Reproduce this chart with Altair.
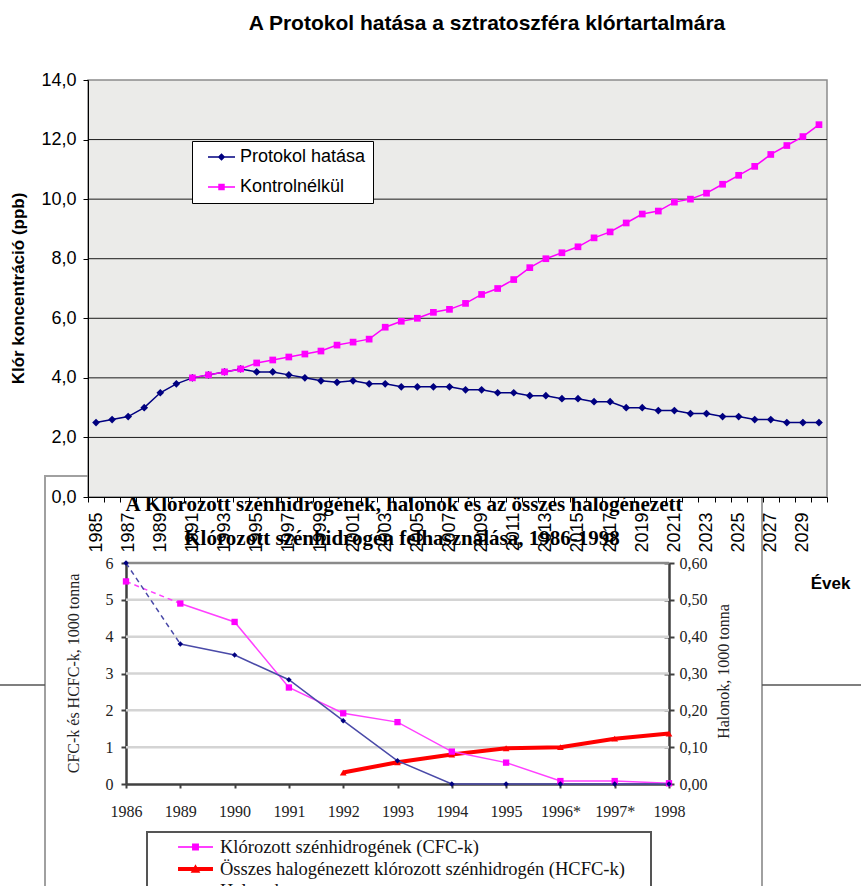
import altair as alt
import pandas as pd

# ---------------- upper chart data ----------------
years = list(range(1985, 2031))
protokol = [2.5, 2.6, 2.7, 3.0, 3.5, 3.8, 4.0, 4.1, 4.2, 4.3,
            4.2, 4.2, 4.1, 4.0, 3.9, 3.85, 3.9, 3.8, 3.8, 3.7,
            3.7, 3.7, 3.7, 3.6, 3.6, 3.5, 3.5, 3.4, 3.4, 3.3,
            3.3, 3.2, 3.2, 3.0, 3.0, 2.9, 2.9, 2.8, 2.8, 2.7,
            2.7, 2.6, 2.6, 2.5, 2.5, 2.5]
kontroll = [None, None, None, None, None, None,
            4.0, 4.1, 4.2, 4.3, 4.5, 4.6, 4.7, 4.8, 4.9, 5.1,
            5.2, 5.3, 5.7, 5.9, 6.0, 6.2, 6.3, 6.5, 6.8, 7.0,
            7.3, 7.7, 8.0, 8.2, 8.4, 8.7, 8.9, 9.2, 9.5, 9.6,
            9.9, 10.0, 10.2, 10.5, 10.8, 11.1, 11.5, 11.8, 12.1, 12.5]
top_series = ["Protokol hatása", "Kontrolnélkül"]
top_y_ticks = [0, 2, 4, 6, 8, 10, 12, 14]
top_grid = [2, 4, 6, 8, 10, 12]
top_title = "A Protokol hatása a sztratoszféra klórtartalmára"
top_y_title = "Klór koncentráció (ppb)"
top_x_title = "Évek"

# ---------------- lower chart data ----------------
lower_cats = ["1986", "1989", "1990", "1991", "1992", "1993", "1994",
              "1995", "1996*", "1997*", "1998"]
cfc = [5.5, 4.9, 4.4, 2.62, 1.92, 1.68, 0.88, 0.58, 0.08, 0.08, 0.02]
hcfc = [None, None, None, None, 0.31, 0.59, 0.8, 0.97, 1.0, 1.23, 1.37]
halon = [0.60, 0.38, 0.35, 0.283, 0.172, 0.063, 0.0, 0.0, 0.0, 0.0, 0.0]
lower_series = ["Klórozott szénhidrogének (CFC-k)",
                "Összes halogénezett klórozott szénhidrogén (HCFC-k)",
                "Halonok"]
left_ticks = [0, 1, 2, 3, 4, 5, 6]
left_grid = [1, 2, 3, 4, 5]
right_ticks = [0.0, 0.1, 0.2, 0.3, 0.4, 0.5, 0.6]
low_title1 = "A Klórozott szénhidrogének, halonok és az összes halogénezett"
low_title2 = "Klórozott szénhidrogén felhasználása, 1986-1998"
left_title = "CFC-k és HCFC-k, 1000 tonna"
right_title = "Halonok, 1000 tonna"

# ---------------- layout / style ----------------
W, H = 861, 886
TOP_X = [88, 827]
TOP_Y = [497, 80]
LOW_X = [126, 669]
LOW_Y = [784, 563]
SANS = "Liberation Sans"
SERIF = "Liberation Serif"
NAVY = "#000080"
MAG = "#FF00FF"
RED = "#FF0000"

# ---------------- helpers ----------------
def top_xb(axis=None):
    return alt.X("ev:O", scale=alt.Scale(type="band", domain=years, range=TOP_X,
                                          paddingInner=0, paddingOuter=0),
                 bandPosition=0.5, axis=axis)

def top_xq(field):
    return alt.X(field, scale=alt.Scale(domain=[years[0] - 0.5, years[-1] + 0.5],
                                        range=TOP_X, nice=False, zero=False), axis=None)

def top_y(field, axis=None):
    return alt.Y(field, scale=alt.Scale(domain=[top_y_ticks[0], top_y_ticks[-1]],
                                        range=TOP_Y, nice=False, zero=False), axis=axis)

def low_x(axis=None):
    return alt.X("kat:O", scale=alt.Scale(type="point", domain=lower_cats, range=LOW_X,
                                          padding=0), sort=lower_cats, axis=axis)

def low_xq(field):
    return alt.X(field, scale=alt.Scale(domain=[0, len(lower_cats) - 1], range=LOW_X,
                                        nice=False, zero=False), axis=None)

def low_yl(field, axis=None):
    return alt.Y(field, scale=alt.Scale(domain=[left_ticks[0], left_ticks[-1]],
                                        range=LOW_Y, nice=False, zero=False), axis=axis)

def low_yr(field, axis=None):
    return alt.Y(field, scale=alt.Scale(domain=[right_ticks[0], right_ticks[-1]],
                                        range=LOW_Y, nice=False, zero=False), axis=axis)

def text_layer(txt, x, y, font, size, weight="normal", angle=0):
    return alt.Chart(pd.DataFrame({"t": [txt]})).mark_text(
        font=font, fontSize=size, fontWeight=weight, align="center",
        baseline="middle", angle=angle, color="black").encode(
        text="t:N", x=alt.value(x), y=alt.value(y))

top_df = pd.DataFrame({"ev": years, "p": protokol, "k": kontroll})
low_df = pd.DataFrame({"kat": lower_cats, "cfc": cfc, "hcfc": hcfc, "halon": halon})

layers = []

# ================= lower (pasted) chart =================
layers.append(alt.Chart(pd.DataFrame({"a": [0]})).mark_rect(
    fillOpacity=0, stroke="#A0A0A0", strokeWidth=2).encode(
    x=alt.value(45), x2=alt.value(762), y=alt.value(476), y2=alt.value(920)))
layers.append(alt.Chart(pd.DataFrame({"a": [0]})).mark_rule(
    color="#555555", strokeWidth=1.5).encode(
    x=alt.value(0), x2=alt.value(45), y=alt.value(685)))
layers.append(alt.Chart(pd.DataFrame({"a": [0]})).mark_rule(
    color="#555555", strokeWidth=1.5).encode(
    x=alt.value(762), x2=alt.value(861), y=alt.value(685)))

layers.append(text_layer(low_title1, 404, 505, SERIF, 21, "bold"))
layers.append(text_layer(low_title2, 402, 539, SERIF, 21, "bold"))

# gridlines + left axis
lgrid = pd.DataFrame({"y": left_grid, "x0": 0, "x1": len(lower_cats) - 1})
left_axis = alt.Axis(orient="left", offset=-LOW_X[0], values=left_ticks, grid=False,
                     tickSize=5, tickWidth=2, tickColor="#404040",
                     domainColor="#404040", domainWidth=2.5,
                     labelFont=SERIF, labelFontSize=16, labelColor="#222222",
                     labelPadding=8, title=left_title, titleFont=SERIF,
                     titleFontSize=16, titleFontWeight="normal", titleColor="#222222",
                     titleX=73 - LOW_X[0], titleY=673, titleAngle=270,
                     titleAlign="center", titleBaseline="middle")
layers.append(alt.Chart(lgrid).mark_rule(color="#D4D4D4", strokeWidth=2.5).encode(
    x=low_xq("x0:Q"), x2="x1:Q", y=low_yl("y:Q", left_axis)))
ltop = pd.DataFrame({"y": [left_ticks[-1]], "x0": 0, "x1": len(lower_cats) - 1})
layers.append(alt.Chart(ltop).mark_rule(color="#8A8A8A", strokeWidth=2.5).encode(
    x=low_xq("x0:Q"), x2="x1:Q", y=low_yl("y:Q")))

# lines
layers.append(alt.Chart(low_df.dropna(subset=["hcfc"])).mark_line(
    color=RED, strokeWidth=4).encode(x=low_x(), y=low_yl("hcfc:Q")))
layers.append(alt.Chart(low_df.iloc[:2]).mark_line(
    color="#FF40FF", strokeWidth=1.5, strokeDash=[5, 4]).encode(x=low_x(), y=low_yl("cfc:Q")))
bottom_axis = alt.Axis(orient="bottom", offset=LOW_Y[0] - H, grid=False, tickSize=4,
                       tickWidth=2, tickColor="#404040", domainColor="#404040",
                       domainWidth=2.5, labelFont=SERIF, labelFontSize=16,
                       labelColor="#222222", labelPadding=15, labelAngle=0,
                       labelOverlap=False, title=None)
layers.append(alt.Chart(low_df.iloc[1:]).mark_line(
    color="#FF40FF", strokeWidth=1.5).encode(x=low_x(bottom_axis), y=low_yl("cfc:Q")))
layers.append(alt.Chart(low_df.iloc[:2]).mark_line(
    color="#4A4AA8", strokeWidth=1.5, strokeDash=[5, 4]).encode(x=low_x(), y=low_yr("halon:Q")))
right_axis = alt.Axis(orient="right", offset=LOW_X[1] - W, values=right_ticks, grid=False,
                      tickSize=5, tickWidth=2, tickColor="#404040",
                      domainColor="#404040", domainWidth=2.5,
                      labelFont=SERIF, labelFontSize=16, labelColor="#222222",
                      labelPadding=5,
                      labelExpr="replace(format(datum.value, '.2f'), '.', ',')",
                      title=right_title, titleFont=SERIF, titleFontSize=16,
                      titleFontWeight="normal", titleColor="#222222",
                      titleX=723 - LOW_X[1], titleY=671, titleAngle=270,
                      titleAlign="center", titleBaseline="middle")
layers.append(alt.Chart(low_df.iloc[1:]).mark_line(
    color="#4A4AA8", strokeWidth=1.5).encode(x=low_x(), y=low_yr("halon:Q", right_axis)))

# markers
layers.append(alt.Chart(low_df.dropna(subset=["hcfc"])).mark_point(
    filled=True, shape="triangle-up", size=45, color=RED, opacity=1).encode(
    x=low_x(), y=low_yl("hcfc:Q")))
layers.append(alt.Chart(low_df).mark_point(
    filled=True, shape="square", size=40, color=MAG, opacity=1).encode(
    x=low_x(), y=low_yl("cfc:Q")))
inner_ticks = alt.Axis(orient="left", offset=-LOW_X[1], values=right_ticks, grid=False,
                       tickSize=5, tickWidth=2, tickColor="#404040", domain=False,
                       labels=False, title=None)
layers.append(alt.Chart(low_df).mark_point(
    filled=True, shape="diamond", size=30, color=NAVY, opacity=1).encode(
    x=low_x(), y=low_yr("halon:Q", inner_ticks)))

# lower legend
layers.append(alt.Chart(pd.DataFrame({"a": [0]})).mark_rect(
    fill="white", stroke="#555555", strokeWidth=2).encode(
    x=alt.value(147), x2=alt.value(651), y=alt.value(832), y2=alt.value(930)))
low_paths = [
    "M-1.52,-0.065H1.52V0.065H-1.52Z M-0.3,-0.3H0.3V0.3H-0.3Z",
    "M-1.52,-0.175H1.52V0.175H-1.52Z M0,-0.42L0.42,0.32H-0.42Z",
    "M-1.52,-0.065H1.52V0.065H-1.52Z M0,-0.32L0.32,0L0,0.32L-0.32,0Z",
]
low_colors = [MAG, RED, "#2A2A95"]
low_legend = alt.Legend(title=None, orient="none", legendX=184, legendY=835.5, padding=0,
                        symbolSize=529, symbolOpacity=1, symbolStrokeWidth=0,
                        labelOffset=13, labelFont=SERIF, labelFontSize=18.5,
                        labelColor="#111111", labelLimit=700, rowPadding=1)
leg_low_df = pd.DataFrame({"s": lower_series, "kat": lower_cats[0], "v": 0.0})
layers.append(alt.Chart(leg_low_df).mark_point(filled=True, opacity=0).encode(
    x=low_x(), y=low_yl("v:Q"),
    color=alt.Color("s:N", scale=alt.Scale(domain=lower_series, range=low_colors),
                    legend=low_legend),
    shape=alt.Shape("s:N", scale=alt.Scale(domain=lower_series, range=low_paths),
                    legend=low_legend)))

# ================= upper chart =================
bg_df = pd.DataFrame({"x0": [years[0] - 0.5], "x1": [years[-1] + 0.5],
                      "y0": [top_y_ticks[0]], "y1": [top_y_ticks[-1]]})
layers.append(alt.Chart(bg_df).mark_rect(fill="#EBEBE9", stroke="#8C8C8C", strokeWidth=1.5).encode(
    x=top_xq("x0:Q"), x2="x1:Q", y=top_y("y0:Q"), y2="y1:Q"))

grid_df = pd.DataFrame({"y": top_grid, "x0": years[0] - 0.5, "x1": years[-1] + 0.5})
top_left_axis = alt.Axis(orient="left", offset=-TOP_X[0], values=top_y_ticks, grid=False,
                         zindex=1,
                         tickSize=5, tickColor="black", domainColor="black", domainWidth=1,
                         labelFont=SANS, labelFontSize=18, labelColor="black", labelPadding=7,
                         labelExpr="replace(format(datum.value, '.1f'), '.', ',')",
                         title=top_y_title, titleFont=SANS, titleFontSize=17,
                         titleFontWeight="bold", titleColor="black",
                         titleX=18 - TOP_X[0], titleY=288, titleAngle=270,
                         titleAlign="center", titleBaseline="middle")
layers.append(alt.Chart(grid_df).mark_rule(color="#1A1A1A", strokeWidth=1).encode(
    x=top_xq("x0:Q"), x2="x1:Q", y=top_y("y:Q", top_left_axis)))

top_bottom_axis = alt.Axis(orient="bottom", offset=TOP_Y[0] - H, grid=False, tickBand="extent",
                           zindex=1,
                           tickSize=5, tickColor="black", domainColor="black", domainWidth=1,
                           labelFont=SANS, labelFontSize=18, labelColor="black",
                           labelAngle=-90, labelAlign="right", labelBaseline="middle",
                           labelPadding=10, labelOverlap=False,
                           labelExpr="datum.value % 2 == 1 ? datum.label : ''",
                           title=top_x_title, titleFont=SANS, titleFontSize=17,
                           titleFontWeight="bold", titleColor="black",
                           titleX=830, titleY=583 - TOP_Y[0], titleAngle=0,
                           titleAlign="center", titleBaseline="middle")
layers.append(alt.Chart(top_df).mark_line(color=NAVY, strokeWidth=1.5).encode(
    x=top_xb(top_bottom_axis), y=top_y("p:Q")))
layers.append(alt.Chart(top_df.dropna(subset=["k"])).mark_line(color=MAG, strokeWidth=1.5).encode(
    x=top_xb(), y=top_y("k:Q")))
layers.append(alt.Chart(top_df).mark_point(filled=True, shape="diamond", size=60,
                                           color=NAVY, opacity=1).encode(
    x=top_xb(), y=top_y("p:Q")))
layers.append(alt.Chart(top_df.dropna(subset=["k"])).mark_point(filled=True, shape="square",
                                                                 size=45, color=MAG, opacity=1).encode(
    x=top_xb(), y=top_y("k:Q")))

top_paths = [
    "M-1.5,-0.083H1.5V0.083H-1.5Z M0,-0.42L0.42,0L0,0.42L-0.42,0Z",
    "M-1.5,-0.083H1.5V0.083H-1.5Z M-0.36,-0.36H0.36V0.36H-0.36Z",
]
top_legend = alt.Legend(title=None, orient="none", legendX=192, legendY=141, padding=7,
                        fillColor="white", strokeColor="black", cornerRadius=0,
                        symbolSize=324, symbolOpacity=1, symbolStrokeWidth=0,
                        symbolOffset=13.5, labelOffset=9.5, labelFont=SANS,
                        labelFontSize=18, labelColor="black", labelLimit=400,
                        rowPadding=12)
leg_top_df = pd.DataFrame({"s": top_series, "ev": years[0], "v": 0.0})
layers.append(alt.Chart(leg_top_df).mark_point(filled=True, opacity=0).encode(
    x=top_xb(), y=top_y("v:Q"),
    color=alt.Color("s:N", scale=alt.Scale(domain=top_series, range=[NAVY, MAG]),
                    legend=top_legend),
    shape=alt.Shape("s:N", scale=alt.Scale(domain=top_series, range=top_paths),
                    legend=top_legend)))

layers.append(text_layer(top_title, 487, 24, SANS, 21, "bold"))

chart = alt.layer(*layers).properties(
    width=W, height=H, padding=0, background="white",
    autosize=alt.AutoSizeParams(type="none"),
).resolve_scale(
    x="independent", y="independent", color="independent", shape="independent"
).configure_view(stroke=None)

chart.save("out.html", embed_options={"renderer": "svg", "actions": False})
